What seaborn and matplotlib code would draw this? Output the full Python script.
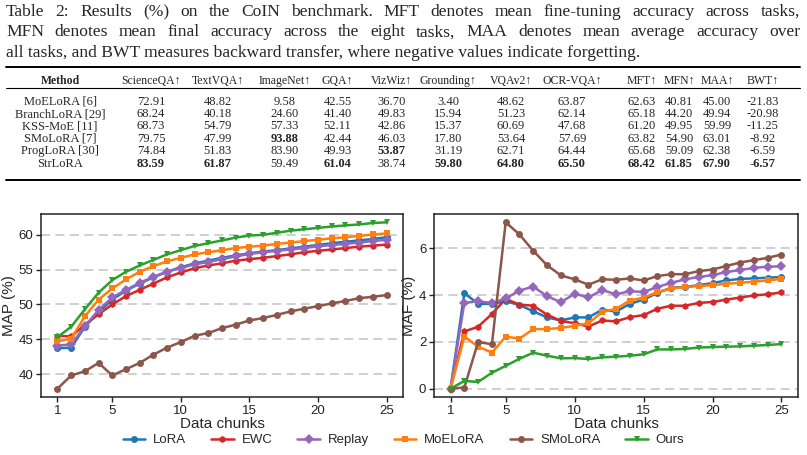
import matplotlib
matplotlib.use("Agg")
import matplotlib.pyplot as plt
from matplotlib.lines import Line2D
import seaborn as sns
import numpy as np
import pandas as pd

# ---------------- data ----------------
chunks = list(range(1, 26))
methods = ["LoRA", "EWC", "Replay", "MoELoRA", "SMoLoRA", "Ours"]

map_lora = [43.7, 43.8, 46.8, 48.9, 50.7, 52.0, 53.0, 53.9, 54.7, 55.35, 55.9, 56.3, 56.7,
            57.05, 57.35, 57.6, 57.8, 58.05, 58.3, 58.55, 58.8, 59.0, 59.2, 59.4, 59.65]
map_ewc = [45.5, 45.4, 47.1, 48.6, 50.0, 51.2, 52.1, 53.0, 53.9, 54.6, 55.2, 55.6, 55.9,
           56.3, 56.5, 56.7, 56.95, 57.2, 57.5, 57.7, 57.9, 58.1, 58.3, 58.45, 58.6]
map_replay = [44.1, 44.25, 46.9, 49.2, 51.0, 52.1, 53.1, 54.0, 54.7, 55.25, 55.75, 56.1, 56.5,
              56.9, 57.25, 57.5, 57.7, 57.9, 58.1, 58.35, 58.55, 58.7, 58.9, 59.1, 59.3]
map_moelora = [44.7, 45.1, 48.3, 50.7, 52.3, 53.6, 54.7, 55.5, 56.2, 56.7, 57.2, 57.5, 57.8,
               58.1, 58.3, 58.45, 58.7, 58.9, 59.1, 59.3, 59.5, 59.65, 59.85, 60.05, 60.2]
map_smolora = [37.9, 39.8, 40.4, 41.6, 39.8, 40.7, 41.6, 42.8, 43.8, 44.6, 45.5, 45.9, 46.6,
               47.1, 47.7, 48.05, 48.5, 49.0, 49.4, 49.75, 50.15, 50.5, 50.9, 51.1, 51.35]
map_ours = [45.3, 46.8, 49.3, 51.7, 53.5, 54.7, 55.6, 56.4, 57.2, 57.8, 58.4, 58.8, 59.2,
            59.6, 59.9, 60.0, 60.3, 60.6, 60.8, 61.0, 61.2, 61.35, 61.5, 61.7, 61.8]

maf_lora = [0.0, 4.09, 3.63, 3.63, 3.74, 3.58, 3.31, 3.05, 2.92, 3.05, 3.05, 3.38, 3.30,
            3.63, 3.81, 4.10, 4.32, 4.35, 4.43, 4.52, 4.63, 4.70, 4.72, 4.75, 4.78]
maf_ewc = [0.0, 2.45, 2.65, 3.20, 3.84, 3.60, 3.55, 3.17, 2.90, 2.80, 2.66, 2.92, 2.88,
           3.06, 3.15, 3.42, 3.55, 3.55, 3.67, 3.71, 3.81, 3.90, 3.99, 4.04, 4.12]
maf_replay = [0.0, 3.67, 3.74, 3.67, 3.86, 4.20, 4.37, 3.96, 3.70, 4.06, 3.91, 4.22, 4.04,
              4.17, 4.14, 4.35, 4.53, 4.68, 4.78, 4.86, 4.99, 5.08, 5.17, 5.22, 5.24]
maf_moelora = [0.0, 2.23, 1.80, 1.54, 2.23, 2.14, 2.55, 2.55, 2.60, 2.69, 2.80, 3.28, 3.42,
               3.77, 3.90, 4.13, 4.29, 4.35, 4.39, 4.43, 4.49, 4.53, 4.58, 4.63, 4.70]
maf_smolora = [0.0, 0.05, 2.00, 1.90, 7.12, 6.60, 5.90, 5.28, 4.85, 4.68, 4.45, 4.68, 4.66,
               4.72, 4.63, 4.82, 4.90, 4.90, 5.03, 5.10, 5.25, 5.40, 5.50, 5.60, 5.74]
maf_ours = [0.0, 0.33, 0.29, 0.68, 0.98, 1.28, 1.54, 1.41, 1.30, 1.31, 1.27, 1.34, 1.37,
            1.41, 1.47, 1.68, 1.68, 1.70, 1.76, 1.78, 1.80, 1.81, 1.84, 1.87, 1.91]

# table data
caption_lines = [
    "Table 2: Results (%) on the CoIN benchmark. MFT denotes mean fine-tuning accuracy across tasks,",
    "MFN denotes mean final accuracy across the eight tasks, MAA denotes mean average accuracy over",
    "all tasks, and BWT measures backward transfer, where negative values indicate forgetting.",
]
table_header = ["Method", "ScienceQA↑", "TextVQA↑", "ImageNet↑", "GQA↑", "VizWiz↑", "Grounding↑",
                "VQAv2↑", "OCR-VQA↑", "MFT↑", "MFN↑", "MAA↑", "BWT↑"]
table_methods = ["MoELoRA [6]", "BranchLoRA [29]", "KSS-MoE [11]", "SMoLoRA [7]", "ProgLoRA [30]", "StrLoRA"]
row_moelora = ["72.91", "48.82", "9.58", "42.55", "36.70", "3.40", "48.62", "63.87", "62.63", "40.81", "45.00", "-21.83"]
row_branch = ["68.24", "40.18", "24.60", "41.40", "49.83", "15.94", "51.23", "62.14", "65.18", "44.20", "49.94", "-20.98"]
row_kss = ["68.73", "54.79", "57.33", "52.11", "42.86", "15.37", "60.69", "47.68", "61.20", "49.95", "59.99", "-11.25"]
row_smolora = ["79.75", "47.99", "93.88", "42.44", "46.03", "17.80", "53.64", "57.69", "63.82", "54.90", "63.01", "-8.92"]
row_prog = ["74.84", "51.83", "83.90", "49.93", "53.87", "31.19", "62.71", "64.44", "65.68", "59.09", "62.38", "-6.59"]
row_str = ["83.59", "61.87", "59.49", "61.04", "38.74", "59.80", "64.80", "65.50", "68.42", "61.85", "67.90", "-6.57"]
table_rows = [row_moelora, row_branch, row_kss, row_smolora, row_prog, row_str]
bold_cells = [(3, 2), (4, 4)] + [(5, c) for c in (0, 1, 3, 5, 6, 7, 8, 9, 10, 11)]

# ---------------- style ----------------
sns.set_theme(style="ticks")
plt.rcParams["font.family"] = ["Liberation Sans", "DejaVu Sans"]

W, H = 807, 455
fig = plt.figure(figsize=(W / 100, H / 100), dpi=100)

def fx(px):
    return px / W

def fy(py):
    return 1 - py / H

serif = ["Liberation Serif", "DejaVu Serif"]

# ---------------- caption (justified) ----------------
renderer = fig.canvas.get_renderer()
cap_fs = 12.6
cap_base = [16.0, 36.5, 57.0]
for i, line in enumerate(caption_lines):
    if i < 2:
        words = line.split(" ")
        texts = [fig.text(0, fy(cap_base[i]), w, fontsize=cap_fs, family=serif, va="baseline")
                 for w in words]
        widths = [t.get_window_extent(renderer).width for t in texts]
        x0, x1 = 6, 800
        gap = (x1 - x0 - sum(widths)) / (len(words) - 1)
        x = x0
        for t, w in zip(texts, widths):
            t.set_x(fx(x))
            x += w + gap
    else:
        fig.text(fx(6), fy(cap_base[i]), line, fontsize=cap_fs, family=serif, va="baseline")

# ---------------- table ----------------
col_x = [60, 151, 217.5, 284.5, 337.5, 391.5, 448, 511, 572, 641.5, 679, 717, 762.5]
tab_fs = 8.5
header_y = 80.7
row_y = [101.7, 114.3, 126.3, 138.7, 151.0, 163.7]
for j, h in enumerate(table_header):
    fig.text(fx(col_x[j]), fy(header_y), h, fontsize=tab_fs, family=serif,
             ha="center", va="center", fontweight="bold" if j == 0 else "normal")
for r, (name, vals) in enumerate(zip(table_methods, table_rows)):
    fig.text(fx(col_x[0]), fy(row_y[r]), name, fontsize=tab_fs + 0.5, family=serif, ha="center", va="center")
    for c, v in enumerate(vals):
        fig.text(fx(col_x[c + 1]), fy(row_y[r]), v, fontsize=tab_fs + 0.5, family=serif, ha="center",
                 va="center", fontweight="bold" if (r, c) in bold_cells else "normal")
for yy, lw in [(66.7, 1.4), (87.7, 0.8), (180.0, 1.4)]:
    fig.add_artist(Line2D([fx(6), fx(800)], [fy(yy), fy(yy)], transform=fig.transFigure,
                          color="black", lw=lw))

# ---------------- charts ----------------
map_vals = [map_lora, map_ewc, map_replay, map_moelora, map_smolora, map_ours]
maf_vals = [maf_lora, maf_ewc, maf_replay, maf_moelora, maf_smolora, maf_ours]
df = pd.DataFrame({
    "chunk": chunks * len(methods),
    "method": np.repeat(methods, len(chunks)),
    "MAP": np.concatenate(map_vals),
    "MAF": np.concatenate(maf_vals),
})
palette = dict(zip(methods, ["#1f77b4", "#d62728", "#9467bd", "#ff7f0e", "#8c564b", "#2ca02c"]))
markers = dict(zip(methods, ["o", "h", "D", "s", "o", "v"]))

ax1 = fig.add_axes([fx(41), fy(397), fx(403) - fx(41), fy(214) - fy(397)])
ax2 = fig.add_axes([fx(434), fy(397), fx(798) - fx(434), fy(214) - fy(397)])

for ax, col, lab, yt in [(ax1, "MAP", "MAP (%)", [40, 45, 50, 55, 60]),
                         (ax2, "MAF", "MAF (%)", [0, 2, 4, 6])]:
    sns.lineplot(data=df, x="chunk", y=col, hue="method", style="method", hue_order=methods,
                 style_order=methods, palette=palette, markers=markers, dashes=False,
                 markersize=5, linewidth=1.8, markeredgewidth=0, ax=ax, legend=(ax is ax1))
    ax.set_xticks([1, 5, 10, 15, 20, 25])
    ax.set_yticks(yt)
    ax.set_xlabel("Data chunks", fontsize=11, labelpad=0)
    ax.set_ylabel(lab, fontsize=11, labelpad=2)
    ax.tick_params(labelsize=9.5, length=3.5, width=1, pad=2, colors="#222222")
    ax.yaxis.grid(True, linestyle=(0, (5, 3)), color="#cccccc", linewidth=1.3)
    ax.set_axisbelow(True)
    for s in ax.spines.values():
        s.set_visible(True)
        s.set_color("#222222")
        s.set_linewidth(1.1)

handles, labels = ax1.get_legend_handles_labels()
ax1.get_legend().remove()
fig.legend(handles, labels, loc="center", bbox_to_anchor=(0.5, fy(440)), ncol=6, frameon=False,
           fontsize=9.5, handlelength=1.7, handletextpad=0.6, columnspacing=1.9)

fig.savefig("out.png", dpi=100)
